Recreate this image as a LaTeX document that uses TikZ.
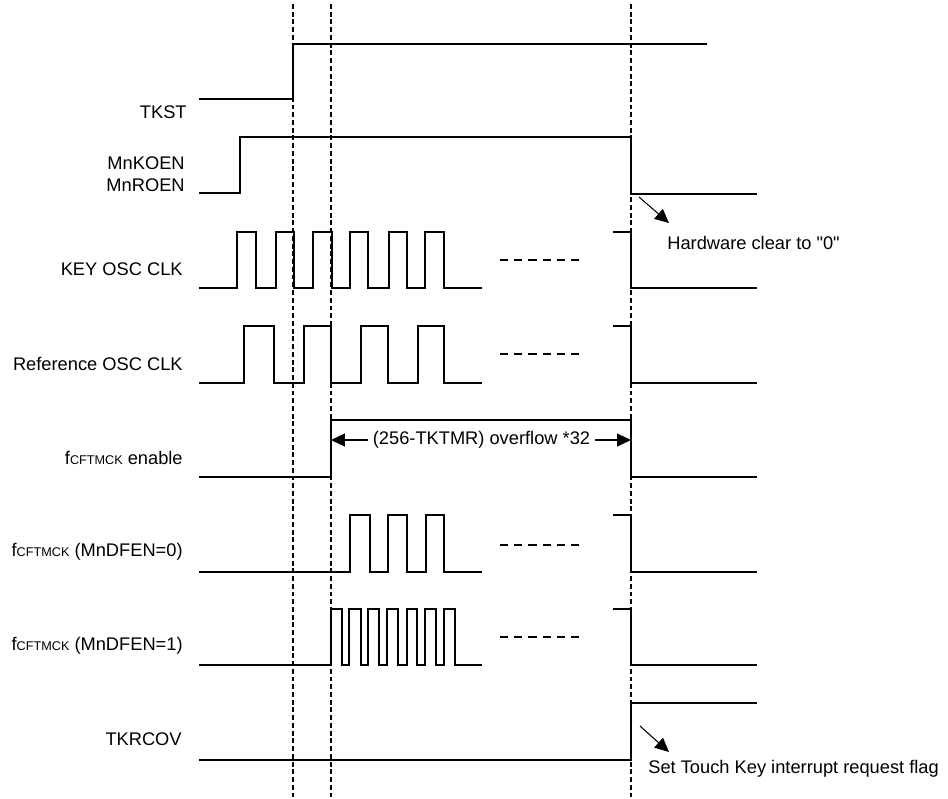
\documentclass[tikz,border=0pt]{standalone}
\usepackage{fontspec}
\setmainfont{Liberation Sans}
\newfontfamily\gerade{Liberation Sans}
\usetikzlibrary{arrows.meta}
\newcommand{\fcft}{f{\fontsize{7.2}{8}\selectfont CFTMCK}}

\begin{document}
\begin{tikzpicture}[x=0.02cm, y=-0.02cm,
    sig/.style={line width=0.6pt},
    grenze/.style={line width=0.8pt, dash pattern=on 2.8pt off 1.6pt},
    luecke/.style={line width=1pt, dash pattern=on 4.7pt off 3.4pt},
    pfeil/.style={line width=0.6pt, -{Triangle[length=0.28cm, width=0.26cm]}},
    lbl/.style={inner sep=0pt, font=\fontsize{10.4}{12.5}\selectfont}]
\useasboundingbox (0,0) rectangle (948,799);
    % Zeitmarken (gestrichelt):
    \coordinate (t1) at (293,4);
    \coordinate (t2) at (331,4);
    \coordinate (t3) at (631,4);
    \draw[grenze] (t1) -- (293,799); % erste Marke
    \draw[grenze] (t2) -- (331,799); % zweite Marke
    \draw[grenze] (t3) -- (631,799); % dritte Marke
    % Beschriftungen links:
    \node[lbl, anchor=base east] (tkst) at (187,118) {TKST};
    \node[lbl, anchor=east, align=right] (koen) at (185,174) {MnKOEN\\MnROEN};
    \node[lbl, anchor=base east] (keyclk) at (183,275) {KEY OSC CLK};
    \node[lbl, anchor=base east] (refclk) at (183,370) {Reference OSC CLK};
    \node[lbl, anchor=base east] (enable) at (183,464) {\fcft{} enable};
    \node[lbl, anchor=base east] (dfen0) at (183,556) {\fcft{} (MnDFEN=0)};
    \node[lbl, anchor=base east] (dfen1) at (183,650) {\fcft{} (MnDFEN=1)};
    \node[lbl, anchor=base east] (tkrcov) at (182,745) {TKRCOV};
    % TKST:
    \draw[sig] (199,99) -- (293,99) -- (293,44) -- (707,44);
    % MnKOEN / MnROEN:
    \draw[sig] (199,193) -- (240,193) -- (240,137) -- (631,137) -- (631,194) -- (757,194);
    % KEY OSC CLK:
    \draw[sig] (199,288) -- (237,288) -- (237,232) -- (256,232) -- (256,288) -- (276,288) -- (276,232)
        -- (294,232) -- (294,288) -- (313,288) -- (313,232) -- (332,232) -- (332,288) -- (350,288)
        -- (350,232) -- (368,232) -- (368,288) -- (389,288) -- (389,232) -- (407,232) -- (407,288)
        -- (425,288) -- (425,232) -- (444,232) -- (444,288) -- (482,288);
    \draw[luecke] (500,260) -- (582,260);
    \draw[sig] (613,232) -- (631,232) -- (631,288) -- (757,288);
    % Reference OSC CLK:
    \draw[sig] (199,383) -- (244,383) -- (244,326) -- (274,326) -- (274,383) -- (304,383) -- (304,326)
        -- (331,326) -- (331,383) -- (361,383) -- (361,326) -- (388,326) -- (388,383) -- (418,383)
        -- (418,326) -- (444,326) -- (444,383) -- (482,383);
    \draw[luecke] (500,354) -- (582,354);
    \draw[sig] (613,326) -- (631,326) -- (631,383) -- (757,383);
    % fCFTMCK enable:
    \draw[sig] (199,477) -- (331,477) -- (331,420) -- (631,420) -- (631,477) -- (757,477);
    \node[lbl, inner xsep=2.5pt] (ovf) at (481.5,440) {(256-TKTMR) overflow *32};
    \draw[pfeil] (ovf.west) -- (ovf.west -| t2);
    \draw[pfeil] (ovf.east) -- (ovf.east -| t3);
    % fCFTMCK (MnDFEN=0):
    \draw[sig] (199,572) -- (350,572) -- (350,515) -- (370,515) -- (370,572) -- (388,572) -- (388,515)
        -- (407,515) -- (407,572) -- (426,572) -- (426,515) -- (444,515) -- (444,572) -- (482,572);
    \draw[luecke] (500,545) -- (582,545);
    \draw[sig] (613,515) -- (631,515) -- (631,572) -- (757,572);
    % fCFTMCK (MnDFEN=1):
    \draw[sig] (199,665) -- (331,665) -- (331,609) -- (342,609) -- (342,665) -- (349,665) -- (349,609)
        -- (361,609) -- (361,665) -- (368,665) -- (368,609) -- (379,609) -- (379,665) -- (387,665)
        -- (387,609) -- (398,609) -- (398,665) -- (407,665) -- (407,609) -- (417,609) -- (417,665)
        -- (425,665) -- (425,609) -- (436,609) -- (436,665) -- (444,665) -- (444,609) -- (455,609)
        -- (455,665) -- (482,665);
    \draw[luecke] (500,637) -- (582,637);
    \draw[sig] (613,609) -- (631,609) -- (631,665) -- (757,665);
    % TKRCOV:
    \draw[sig] (199,760) -- (631,760) -- (631,703) -- (757,703);
    % Hinweise rechts:
    \node[lbl, anchor=base west] (hwclr) at (667,249) {Hardware clear to {\gerade "0"}};
    \coordinate (hwA) at (639,197);
    \coordinate (hwB) at (669,223);
    \draw[pfeil] (hwA) -- (hwB);
    \node[lbl, anchor=base west] (irq) at (648,773) {Set Touch Key interrupt request flag};
    \coordinate (irqA) at (640,726);
    \coordinate (irqB) at (669,752);
    \draw[pfeil] (irqA) -- (irqB);
\end{tikzpicture}
\end{document}
